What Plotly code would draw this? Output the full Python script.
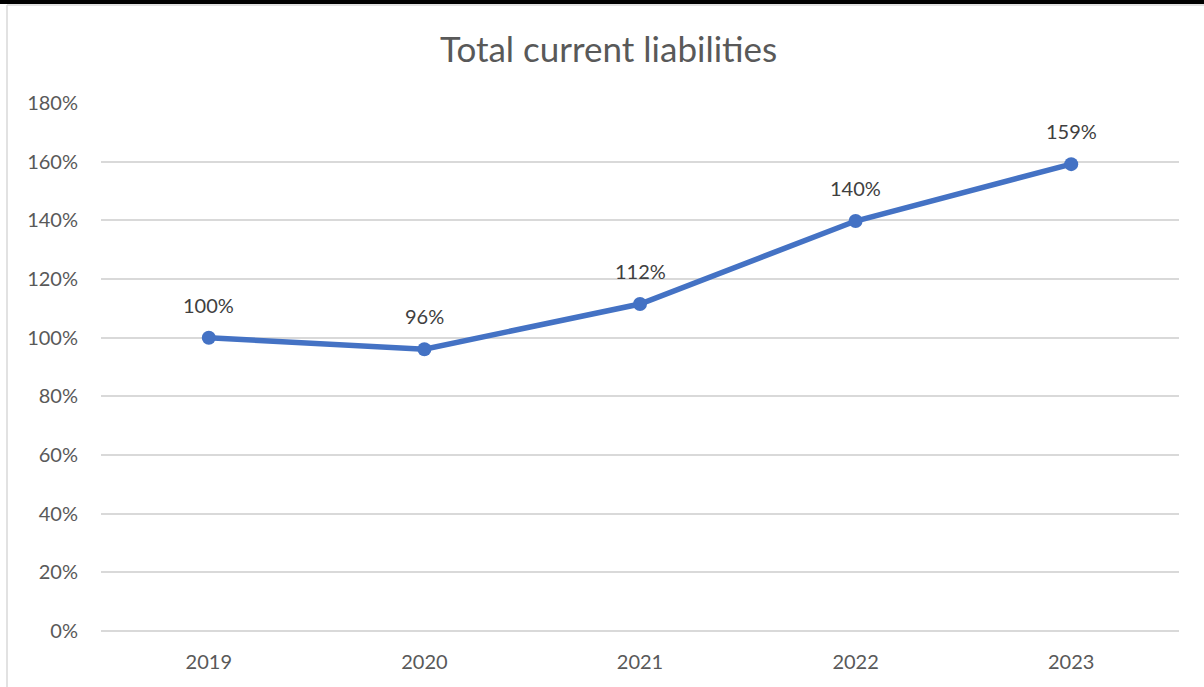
import plotly.graph_objects as go

years = ["2019", "2020", "2021", "2022", "2023"]
values = [1.00, 0.961, 1.115, 1.398, 1.592]
labels = ["100%", "96%", "112%", "140%", "159%"]
y_ticks = [0, 0.2, 0.4, 0.6, 0.8, 1.0, 1.2, 1.4, 1.6, 1.8]
y_tick_text = ["0%", "20%", "40%", "60%", "80%", "100%", "120%", "140%", "160%", "180%"]

W, H = 1204, 687
ML, MR, MT, MB = 101, 25, 103, 56
PW, PH = W - ML - MR, H - MT - MB

def px_x(px):
    return (px - ML) / PW

def px_y(py):
    return (H - MB - py) / PH

FONT = "Lato"
GREY = "#595959"
BLUE = "#4472C4"

fig = go.Figure()
fig.add_trace(go.Scatter(
    x=list(range(len(years))), y=values, mode="lines+markers",
    line=dict(color=BLUE, width=5.5),
    marker=dict(color=BLUE, size=14),
    hoverinfo="skip", showlegend=False,
))

annotations = [
    dict(x=i, y=v, text=t, showarrow=False, xref="x", yref="y",
         yanchor="bottom", yshift=19, font=dict(family=FONT, size=20, color="#404040"))
    for i, (v, t) in enumerate(zip(values, labels))
]
annotations.append(dict(
    text="Total current liabilities", showarrow=False, xref="paper", yref="paper",
    x=px_x(608), y=px_y(48), xanchor="center", yanchor="middle",
    font=dict(family=FONT, size=35, color=GREY),
))

shapes = [
    dict(type="rect", xref="paper", yref="paper", x0=px_x(0), x1=px_x(W), y0=px_y(0), y1=px_y(4),
         fillcolor="black", line=dict(width=0), layer="above"),
    dict(type="line", xref="paper", yref="paper", x0=px_x(7), x1=px_x(7), y0=px_y(5), y1=px_y(H),
         line=dict(color="#D9D9D9", width=1.5)),
    dict(type="line", xref="paper", yref="paper", x0=px_x(7), x1=px_x(W), y0=px_y(5), y1=px_y(5),
         line=dict(color="#D9D9D9", width=1.5)),
]

fig.update_layout(
    width=W, height=H,
    margin=dict(l=ML, r=MR, t=MT, b=MB, pad=0),
    paper_bgcolor="white", plot_bgcolor="white",
    font=dict(family=FONT, color=GREY, size=20),
    annotations=annotations,
    shapes=shapes,
    xaxis=dict(
        range=[-0.5, 4.5], tickvals=list(range(len(years))), ticktext=years,
        showgrid=False, zeroline=False,
        showline=False, ticks="outside", ticklen=13, tickcolor="rgba(0,0,0,0)",
        tickfont=dict(family=FONT, size=20, color=GREY),
    ),
    yaxis=dict(
        range=[0, 1.8005], tickvals=y_ticks, ticktext=y_tick_text,
        showgrid=True, gridcolor="#D9D9D9", gridwidth=1.5, zeroline=True,
        zerolinecolor="#D9D9D9", zerolinewidth=1.5, showline=False,
        ticks="outside", ticklen=18, tickcolor="rgba(0,0,0,0)",
        tickfont=dict(family=FONT, size=20, color=GREY),
    ),
)

fig.write_html("out.html", config={"displayModeBar": False},
               post_script="document.body.style.margin='0';")
